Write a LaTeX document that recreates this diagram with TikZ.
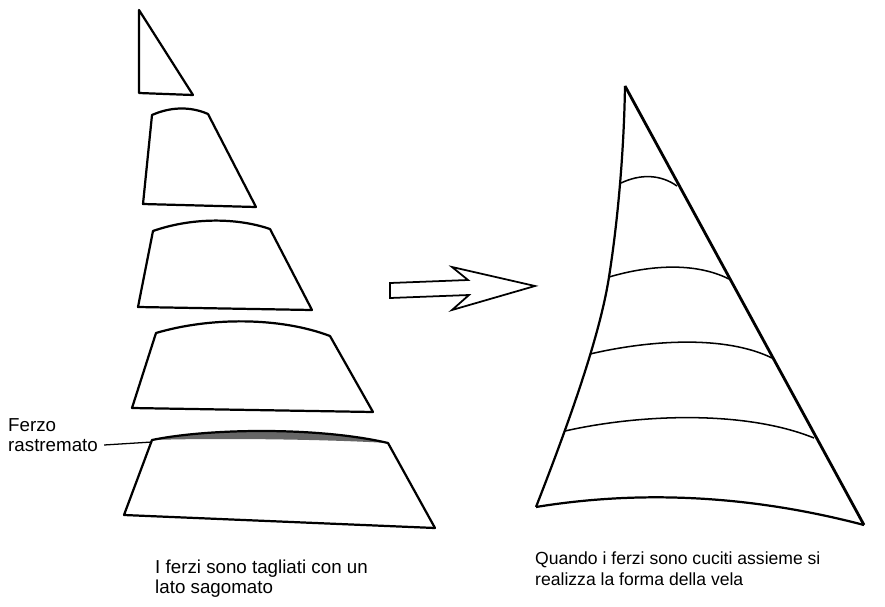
\documentclass[tikz,border=0pt]{standalone}
\usepackage{fontspec}
\setmainfont{Liberation Sans}
\tikzset{
  ferzo/.style={line width=1.9pt,line join=round},
  cucitura/.style={line width=1.3pt},
  testo/.style={align=left,inner sep=0pt,font=\fontsize{16}{17.2}\selectfont}
}
\begin{document}
\begin{tikzpicture}[x=0.03cm,y=-0.03cm]
  \useasboundingbox (0,0) rectangle (885,606);
  % ferzi tagliati
  \draw[ferzo] (139,10) -- (139,93) -- (193,95) -- cycle;
  \draw[ferzo] (152,115) .. controls (170,107) and (190,106) .. (208,114) -- (256,207) -- (143,204) -- cycle;
  \draw[ferzo] (153,231) .. controls (190,218) and (235,217) .. (270,229) -- (312,310) -- (138,307) -- cycle;
  \draw[ferzo] (156,333) .. controls (210,317) and (280,317) .. (330,336) -- (373,412) -- (132,408) -- cycle;
  % ferzo rastremato
  \fill[black!60] (152,440) .. controls (210,428) and (320,427) .. (388,443) .. controls (320,439) and (210,438) .. (152,440);
  \draw[ferzo] (152,440) .. controls (210,428) and (320,427) .. (388,443) -- (435,528) -- (124,515) -- cycle;
  \coordinate (spigolo) at (152,442);
  \node[testo,anchor=west] (lab1) at (8,435) {Ferzo\\rastremato};
  \draw[line width=1.1pt] (lab1.east |- spigolo) ++(6,3) -- (spigolo);
  % freccia
  \draw[line width=1.5pt,line join=miter] (390,283) -- (468,280) -- (452,267) -- (535,286) -- (452,310) -- (469,295) -- (390,298) -- cycle;
  % vela
  \coordinate (apice) at (625,86);
  \coordinate (bugna) at (864,525);
  \coordinate (mura) at (536,507);
  \draw[line width=2.4pt] (apice) -- (bugna);
  \draw[ferzo] (apice) .. controls (624,150) and (618,220) .. (609,277) .. controls (600,335) and (570,420) .. (mura);
  \draw[ferzo] (mura) .. controls (640,490) and (750,495) .. (bugna);
  \draw[cucitura] (621,183) .. controls (640,174) and (660,174) .. (677,186);
  \draw[cucitura] (609,277) .. controls (650,265) and (695,262) .. (729,279);
  \draw[cucitura] (590,354) .. controls (650,340) and (725,335) .. (772,358);
  \draw[cucitura] (565,431) .. controls (640,414) and (745,410) .. (814,438);
  % didascalie
  \node[testo,anchor=north west] (lab2) at (155,560) {I ferzi sono tagliati con un\\lato sagomato};
  \node[testo,anchor=north west,font=\fontsize{15}{17.2}\selectfont] (lab3) at (535,552) {Quando i ferzi sono cuciti assieme si\\realizza la forma della vela};
\end{tikzpicture}
\end{document}
